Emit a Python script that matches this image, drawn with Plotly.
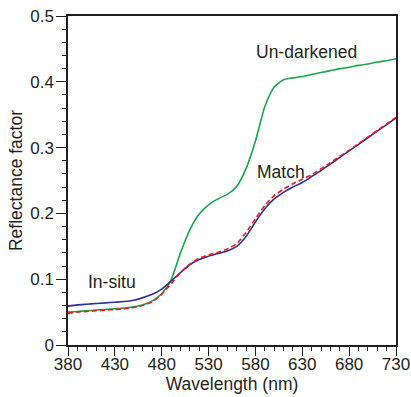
import plotly.graph_objects as go

wavelength = [380, 390, 400, 410, 420, 430, 440, 450, 460, 470, 480, 490, 500, 510,
              520, 530, 540, 550, 560, 570, 580, 590, 600, 610, 620, 630, 640, 650,
              660, 670, 680, 690, 700, 710, 720, 730]

in_situ = [0.059, 0.061, 0.062, 0.063, 0.064, 0.065, 0.066, 0.068, 0.072, 0.077, 0.085,
           0.097, 0.110, 0.122, 0.130, 0.135, 0.139, 0.143, 0.150, 0.165, 0.187, 0.207,
           0.222, 0.232, 0.240, 0.247, 0.256, 0.265, 0.275, 0.285, 0.295, 0.305, 0.315,
           0.325, 0.335, 0.345]

match = [0.048, 0.050, 0.051, 0.052, 0.053, 0.054, 0.055, 0.057, 0.060, 0.066, 0.077,
         0.093, 0.110, 0.123, 0.132, 0.137, 0.141, 0.146, 0.154, 0.171, 0.192, 0.212,
         0.227, 0.237, 0.245, 0.252, 0.259, 0.268, 0.277, 0.287, 0.296, 0.306, 0.316,
         0.326, 0.336, 0.346]

un_darkened = [0.050, 0.051, 0.052, 0.053, 0.054, 0.055, 0.056, 0.058, 0.061, 0.067, 0.078,
               0.099, 0.140, 0.175, 0.199, 0.213, 0.222, 0.229, 0.241, 0.268, 0.310, 0.362,
               0.392, 0.403, 0.406, 0.408, 0.411, 0.414, 0.417, 0.420, 0.422, 0.425, 0.427,
               0.430, 0.432, 0.435]

x_ticks = [380, 430, 480, 530, 580, 630, 680, 730]
y_ticks = [0, 0.1, 0.2, 0.3, 0.4, 0.5]
y_tick_text = ["0", "0.1", "0.2", "0.3", "0.4", "0.5"]

labels = ["Un-darkened", "Match", "In-situ"]
label_x = [635, 607, 427]
label_y = [0.446, 0.263, 0.096]

FONT = "Liberation Sans, Arial, Helvetica, sans-serif"
INK = "#231f20"

fig = go.Figure()
fig.add_trace(go.Scatter(x=wavelength, y=un_darkened, mode="lines",
                         line=dict(color="#1aa64a", width=1.6, shape="spline", smoothing=0.6),
                         showlegend=False))
fig.add_trace(go.Scatter(x=wavelength, y=in_situ, mode="lines",
                         line=dict(color="#2e3192", width=1.6, shape="spline", smoothing=0.6),
                         showlegend=False))
fig.add_trace(go.Scatter(x=wavelength, y=match, mode="lines",
                         line=dict(color="#ec1c24", width=1.6, dash="5px,3px", shape="spline", smoothing=0.6),
                         showlegend=False))

for t, xx, yy in zip(labels, label_x, label_y):
    fig.add_annotation(x=xx, y=yy, text=t, showarrow=False,
                       font=dict(family=FONT, size=17.5, color=INK))

axis_common = dict(showgrid=False, zeroline=False, showline=True, linecolor=INK,
                   linewidth=1.5, mirror=True, ticks="outside", automargin=False,
                   tickwidth=1.2, tickcolor=INK,
                   tickfont=dict(family=FONT, size=17, color=INK))

fig.update_xaxes(range=[380, 730], tickvals=x_ticks, ticklen=9, ticklabelstandoff=-6,
                 minor=dict(dtick=10, tick0=380, ticks="outside", ticklen=4,
                            tickwidth=1, tickcolor=INK),
                 title=dict(text="Wavelength (nm)", font=dict(family=FONT, size=17.5, color=INK),
                            standoff=4),
                 **axis_common)
fig.update_yaxes(range=[0, 0.5], tickvals=y_ticks, ticktext=y_tick_text, ticklen=10,
                 ticklabelstandoff=-1,
                 minor=dict(dtick=0.02, tick0=0, ticks="outside", ticklen=4,
                            tickwidth=1, tickcolor=INK),
                 title=dict(text="Reflectance factor", font=dict(family=FONT, size=17.5, color=INK),
                            standoff=3),
                 **axis_common)

fig.update_layout(width=411, height=397, margin=dict(l=68, r=15, t=16, b=52),
                  paper_bgcolor="white", plot_bgcolor="white")

fig.write_html("out.html", config={"displayModeBar": False},
               post_script="document.body.style.margin='0px';")
